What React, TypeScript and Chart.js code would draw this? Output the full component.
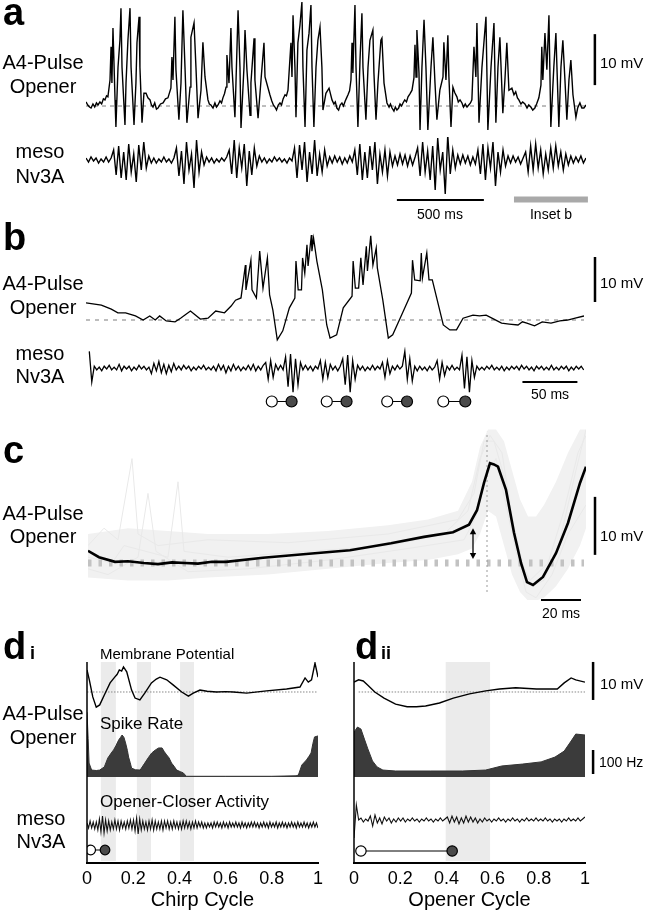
import React, { useEffect, useRef } from 'react';
import { Chart, registerables } from 'chart.js';

Chart.register(...registerables);

const SANS = '"Liberation Sans", Arial, Helvetica, sans-serif';
const NARROW = '"Liberation Sans Narrow", "Arial Narrow", "Liberation Sans", Arial, sans-serif';

// ================= Panel a : A4-Pulse opener (time ms, mV re. rest) =================
const aOpenerTrace: [number, number][] = [
  [0,0.8],[10,0.2],[20,-0.2],[29,-0.4],[40,0.4],[50,-0.2],[60,0.6],[69,0.2],[80,0.8],[90,0.4],[100,1.4],[109,1.2],[118,2.0],[126,1.8],[138,5.1],[144,11.6],[149,4.5],[155,15.3],[167,1.2],[172,-4.1],[184,7.6],[195,12.9],[201,19.2],[207,7.6],[224,-3.7],[230,4.5],[241,12.9],[253,19.2],[259,7.6],[276,-3.7],[287,4.5],[293,12.4],[305,17.5],[310,7.6],[322,-3.3],[333,2.5],[345,2.5],[356,1.6],[368,1.2],[376,0.2],[385,-0.2],[395,0.6],[405,-0.6],[414,-0.4],[428,0.4],[443,0.6],[457,1.4],[471,1.6],[488,3.5],[494,9.6],[500,5.1],[511,17.5],[517,7.1],[534,-2.7],[546,4.5],[557,18.8],[569,7.6],[580,-3.3],[598,3.7],[603,13.5],[621,16.3],[632,7.6],[644,-2.4],[661,3.1],[672,12.5],[684,5.7],[701,1.2],[709,0.4],[718,0.2],[730,-0.4],[741,0.6],[750,-0.2],[759,0.2],[770,1.0],[779,0.6],[787,1.6],[796,2.4],[805,3.7],[810,10.0],[822,4.5],[833,15.3],[839,7.6],[856,-2.2],[862,4.5],[874,18.8],[885,7.6],[891,-4.3],[908,7.6],[914,14.9],[925,7.1],[943,-1.8],[948,4.5],[966,13.3],[971,5.1],[989,-2.4],[1006,5.1],[1023,12.4],[1029,5.7],[1057,2.2],[1068,1.0],[1077,0.2],[1086,-0.2],[1095,-0.8],[1105,0.2],[1115,0.6],[1124,0.2],[1133,1.4],[1144,2.2],[1152,2.0],[1161,3.1],[1178,12.4],[1184,5.7],[1190,17.8],[1201,7.6],[1207,-2.2],[1218,12.4],[1230,15.9],[1241,20.4],[1247,7.6],[1259,-4.1],[1270,11.0],[1282,14.3],[1293,19.8],[1299,7.6],[1310,-4.1],[1322,7.6],[1333,12.9],[1345,15.5],[1356,7.6],[1362,-0.8],[1379,2.5],[1397,3.5],[1414,1.2],[1425,0.4],[1433,0.8],[1442,-0.4],[1452,-0.8],[1461,0.2],[1471,0.6],[1480,0.0],[1490,1.0],[1498,1.6],[1506,2.2],[1515,3.0],[1523,5.1],[1529,12.4],[1534,6.5],[1546,19.8],[1552,7.6],[1563,-4.1],[1575,9.0],[1586,18.2],[1592,7.6],[1609,-2.7],[1621,7.6],[1632,12.9],[1649,14.9],[1655,6.5],[1667,-2.7],[1678,4.5],[1695,12.9],[1701,13.3],[1713,4.5],[1730,0.6],[1742,-0.2],[1750,0.4],[1759,-0.4],[1770,-1.0],[1778,-0.2],[1787,-0.8],[1797,-0.4],[1805,0.4],[1814,0.0],[1822,0.6],[1832,1.2],[1842,0.8],[1851,1.8],[1862,2.4],[1874,3.1],[1885,5.5],[1891,12.0],[1897,5.7],[1902,14.9],[1914,6.5],[1920,-4.7],[1931,7.6],[1943,16.9],[1954,7.6],[1965,-4.7],[1983,7.6],[1994,13.5],[2006,4.5],[2017,-2.7],[2034,3.1],[2052,5.7],[2057,12.5],[2069,5.1],[2080,13.9],[2086,5.7],[2098,-4.1],[2109,3.7],[2120,2.6],[2132,1.8],[2140,0.8],[2150,1.2],[2161,0.6],[2170,-0.2],[2180,0.4],[2190,-0.2],[2200,0.2],[2210,0.6],[2218,1.2],[2230,11.6],[2241,5.7],[2247,16.3],[2259,-3.3],[2276,7.6],[2299,17.5],[2310,-4.7],[2328,7.6],[2345,16.3],[2356,-3.3],[2368,7.6],[2379,13.5],[2396,-1.4],[2408,5.1],[2419,12.4],[2431,3.1],[2448,3.5],[2460,2.2],[2470,2.8],[2480,1.6],[2488,1.2],[2500,0.4],[2510,0.8],[2523,0.4],[2535,-0.4],[2545,0.2],[2557,-0.2],[2568,-0.8],[2580,-0.4],[2590,0.4],[2603,1.6],[2615,4.1],[2620,11.6],[2626,5.1],[2638,14.3],[2649,7.1],[2661,17.8],[2666,7.6],[2672,-4.1],[2689,7.6],[2701,14.3],[2707,7.6],[2718,-4.1],[2730,7.6],[2741,12.9],[2753,5.1],[2764,-2.7],[2776,5.1],[2787,9.0],[2799,2.2],[2816,-2.2],[2826,-0.4],[2839,0.6],[2850,-0.4],[2862,-0.4],[2874,0.2],
];
const aDurationMs = 2874;
const aMesoDt = 14.44; // ms per plotted sample
const aMesoTrace = [
  2,-2,3,-1,2,-3,1,-2,3,-2,2,
  10,-15,14,-18,8,-20,16,-12,6,-22,15,-10,18,-8,4,-3,
  2,-3,1,-2,3,-2,1,-3,2,
  12,-16,9,-24,18,-10,6,-28,20,-12,8,-5,
  3,-2,2,-3,1,-2,2,-1,3,
  10,-14,20,-18,12,-8,16,-26,9,-15,12,-6,4,
  -2,2,-3,1,-2,3,-1,2,-2,1,-3,2,-1,
  12,-18,15,-10,18,-22,8,-14,20,-16,6,-12,10,-6,3,
  -3,4,-2,3,-4,2,-3,4,-2,
  10,-15,16,-20,8,-18,14,-10,18,-24,6,-12,10,-16,8,-6,4,
  -5,6,-4,5,-6,4,-5,3,
  12,-16,18,-12,9,-20,14,-30,22,-10,8,-34,25,-14,10,-8,5,
  -4,5,-3,4,-5,3,-4,
  10,-14,16,-20,12,-8,18,-26,8,-12,10,-6,4,
  -3,4,-2,3,-4,2,
  8,-12,14,-10,16,-8,10,-14,6,-10,12,-8,14,-6,8,-10,6,-5,4,-3,
  3,-2,4,-3,2,
];
const aVoltageBarMv = [4.1, 14.1];
const aVoltageBarAtMs = 2925;
const aTimeBarMs = [1787, 2287];
const aInsetWindowMs = [2460, 2885];

// ================= Panel b : inset (time ms, mV) =================
const bOpenerTrace: [number, number][] = [
  [0,3.8],[14,3.3],[23,2.4],[29,1.6],[36,1.6],[45,0.9],[52,0],[58,0.9],[63,0],[67,0.9],[73,-0.2],[81,-0.4],[86,0.4],[95,2.0],[104,0.2],[111,0.4],[118,2.0],[126,1.6],[132,3.1],[136,4.4],[141,4.9],[145,12.2],[145.5,6.7],[150,13.3],[151,6.7],[155,4.9],[158,15.3],[161,7.1],[165,13.8],[167,5.6],[170,2.2],[174,-4.4],[179,-2.4],[185,2.7],[190,4.9],[191,13.1],[193,6.7],[196,6.7],[197,13.8],[199,10.4],[201,16.7],[202,12.0],[205,18.9],[205.5,15.3],[207,18.2],[210,13.1],[215,6.7],[219,-1.1],[222,-4.0],[228,-3.3],[234,2.7],[242,5.3],[243,13.1],[245,7.1],[248,7.1],[250,13.8],[252,7.8],[255,16.4],[256,10.9],[259,18.7],[261,12.2],[264,16.0],[265,11.6],[270,4.4],[275,-4.0],[279,-3.3],[288,1.6],[296,6.0],[297,13.3],[299,8.9],[304,8.7],[305,14.9],[306,9.3],[310,14.9],[312,8.9],[315,8.9],[319,4.9],[325,-1.1],[331,-2.2],[337,-2.2],[343,0.4],[352,1.1],[358,0.9],[364,1.1],[371,0.2],[378,-0.7],[385,-0.9],[393,-1.1],[397,-0.4],[401,-0.7],[408,-1.3],[415,-0.4],[423,-0.7],[431,-0.2],[438,0],[445,0.4],[453,0.9],
];
const bDurationMs = 453;
const bMesoStartMs = 3;
const bMesoDt = 2.26;
const bMesoTrace = [
  18,-15,
  2,-2,1,-3,2,-1,3,-2,1,-2,4,-3,2,-1,2,-3,1,-2,3,-1,2,-2,1,
  -6,5,-3,7,-5,4,-6,3,-4,5,-2,
  2,-2,3,-1,2,-3,1,-2,2,-1,3,-2,1,-2,2,
  -3,4,-2,3,-5,2,-3,4,-2,2,-3,1,-2,3,-2,4,-3,2,-2,3,
  6,-12,8,-10,4,
  -2,3,-2,
  12,-20,15,-26,10,-18,6,
  -2,3,-2,2,-3,2,-1,
  8,-12,6,-10,4,
  -2,2,-3,2,
  10,-18,14,-26,8,-12,
  3,-2,2,-3,1,-2,3,-2,2,-1,
  6,-10,8,-6,
  2,-2,3,-1,2,
  18,-12,10,-14,
  2,-3,2,-2,1,-3,2,-2,1,
  8,-12,6,-8,
  2,-2,3,-2,1,-2,
  14,-22,12,-26,8,-10,
  2,-2,1,-2,2,-1,3,-2,1,-2,2,-3,1,-2,2,-1,2,-2,3,-1,2,-2,1,-3,2,-1,2,-2,1,-2,3,-2,1,-2,2,-1,2,-3,1,-2,2,-1,2,-2,
];
const bOpenerSpikeMs = [169, 219, 274, 325];
const bCloserSpikeMs = [187, 237, 292, 345];
const bVoltageBarMv = [4, 14];
const bVoltageBarAtMs = 463;
const bTimeBarMs = [397, 447];

// ================= Panel c : spike-triggered average (time ms, mV) =================
const cMeanTrace: [number, number][] = [
  [0,2.1],[5.5,1.0],[13.5,0.2],[20,0.3],[28,0],[35,-0.2],[42,0.1],[48.5,0],[55,-0.1],[62,0.2],[69,0.2],[87.5,0.9],[110.5,1.6],[131,2.2],[151.5,3.4],[168,4.5],[182.5,5.3],[190.5,6.6],[194.5,9.1],[198,13.8],[201,17.2],[203,17.0],[205,16.6],[209,12.6],[213,5.2],[216.5,0],[219.5,-3.3],[222.5,-3.8],[227.5,-2.4],[234,1.7],[240,6.9],[246,13.8],[249,16.6],
];
const cBandTime =  [0, 20, 40, 60, 90, 120, 150, 170, 185, 192, 196, 200, 204, 208, 212, 216, 220, 224, 228, 234, 240, 246, 249];
const cBandUpper = [5, 6, 5.5, 5, 5, 5.5, 6.5, 7.5, 9, 14, 20, 23, 23, 21, 16, 11, 8, 8, 10, 14, 19, 23, 23];
const cBandLower = [-2.5, -3, -3, -2.5, -2, -1, 0, 0.5, 1.5, 2.5, 5, 9, 8, 3, -2, -5, -6.5, -6.5, -6, -4, -1, 3, 6];
const cSingleTrials: [number, number][][] = [
  [[0,3],[8,6],[15,4],[22,18],[25,5],[35,3],[60,4],[100,3.5],[150,5],[185,7.5],[193,12],[198,21],[203,21],[208,15],[213,6],[218,-1],[222,-4],[228,-3],[236,4],[244,16],[249,23]],
  [[0,-1],[10,-2],[25,1],[30,12],[34,2],[50,-1.5],[80,-1],[120,0.5],[160,2.5],[188,4],[194,8],[199,15],[204,18],[209,10],[214,2],[219,-5],[224,-6],[232,-2],[240,5],[249,10]],
  [[0,1],[12,0],[18,3],[40,1],[45,14],[48,2],[70,1],[110,2],[150,3],[178,5],[190,9],[196,18],[201,22],[207,19],[212,8],[217,0],[221,-3],[230,0],[238,9],[245,19],[249,22]],
];
const cDurationMs = 249;
const cSpikeOnsetMs = 199.5;
const cArrowMs = 192.5;
const cArrowMv = [0.7, 6.0];
const cVoltageBarMv = [1.4, 11.4];
const cVoltageBarAtMs = 253.5;
const cTimeBarMs = [226.5, 246.5];

// ================= Panel d : phase-averaged activity =================
const dTickLabels = ['0', '0.2', '0.4', '0.6', '0.8', '1'];
// d i : chirp cycle
const diMembrane: [number, number][] = [
  [0,5.8],[0.01,3.2],[0.025,-1.3],[0.04,-4.0],[0.055,-3.4],[0.075,-0.8],[0.1,2.4],[0.12,3.9],[0.13,4.6],[0.14,5.8],[0.15,5.5],[0.158,6.6],[0.172,5.3],[0.193,0.5],[0.208,-1.6],[0.229,-2.1],[0.25,-0.3],[0.279,2.4],[0.3,3.4],[0.316,3.9],[0.345,3.2],[0.374,1.8],[0.41,0],[0.439,-1.1],[0.46,-0.3],[0.489,0.5],[0.52,0.2],[0.561,0],[0.6,0.1],[0.633,0],[0.691,-0.3],[0.777,0.3],[0.864,0.8],[0.922,1.3],[0.944,3.7],[0.958,2.6],[0.972,3.2],[0.987,7.6],[1.0,3.9],
];
const diSpikeRate: [number, number][] = [
  [0,270],[0.005,160],[0.009,58],[0.02,29],[0.04,27],[0.055,29],[0.075,42],[0.09,79],[0.105,100],[0.115,113],[0.125,130],[0.137,154],[0.145,165],[0.152,175],[0.16,165],[0.167,142],[0.175,110],[0.18,83],[0.187,60],[0.193,37],[0.21,30],[0.23,29],[0.25,58],[0.265,80],[0.28,100],[0.295,112],[0.31,121],[0.325,121],[0.335,105],[0.345,92],[0.355,80],[0.366,58],[0.377,45],[0.388,29],[0.405,22],[0.417,17],[0.43,3],[0.6,3],[0.8,3],[0.905,5],[0.915,8],[0.93,50],[0.95,71],[0.96,85],[0.97,100],[0.978,140],[0.985,167],[1.0,171],
];
const diMesoDt = 1 / 149;
const diMeso = [
  2,-3,4,-3,3,-4,3,-5,6,-7,9,-8,5,-6,4,-5,3,-4,5,-4,
  4,-5,4,-3,3,-4,4,-3,5,-4,5,-6,7,-9,6,-5,4,-4,3,-5,
  4,-4,5,-5,4,-4,3,-4,4,-5,4,-3,4,-4,3,-4,4,-3,3,-4,
  3,-4,4,-3,4,-3,3,-4,3,-3,4,-3,3,-2,3,-3,2,-3,2,-2,
  2,-3,3,-2,3,-2,2,-3,3,-2,2,-3,3,-2,2,-2,3,-2,2,-3,
  3,-2,2,-3,2,-2,3,-2,3,-2,2,-3,2,-2,3,-2,2,-3,3,-2,
  2,-2,3,-3,2,-2,3,-2,2,-3,2,-2,3,-2,2,-3,3,-2,2,-2,
  3,-2,2,-3,2,-2,3,-2,2,-3,
];
const diPhaseBands: [number, number][] = [[0.06, 0.125], [0.216, 0.277], [0.403, 0.463]];
const diOpenerPhase = 0.016;
const diCloserPhase = 0.078;
// d ii : opener cycle
const diiMembrane: [number, number][] = [
  [0,2.6],[0.02,3.2],[0.04,2.9],[0.06,1.8],[0.09,0],[0.13,-1.6],[0.18,-3.2],[0.23,-3.9],[0.27,-3.9],[0.31,-3.7],[0.37,-2.9],[0.43,-1.6],[0.5,-0.5],[0.57,0.3],[0.63,0.8],[0.7,1.1],[0.79,0.8],[0.88,0.8],[0.91,2.4],[0.94,3.7],[0.96,3.2],[1.0,2.6],
];
const diiSpikeRate: [number, number][] = [
  [0,187],[0.015,208],[0.03,200],[0.045,158],[0.06,117],[0.08,67],[0.1,42],[0.125,29],[0.18,25],[0.33,25],[0.47,25],[0.57,29],[0.64,46],[0.73,54],[0.81,63],[0.87,83],[0.91,108],[0.94,150],[0.96,179],[1.0,175],
];
const diiMesoDt = 1 / 99;
const diiMeso = [
  -18,15,0,2,-2,1,-1,4,-6,5,
  -3,2,-4,3,-1,2,-3,1,-2,2,
  -1,2,-2,1,-1,2,-1,1,-2,1,
  -1,2,-1,1,-2,1,-1,2,-1,1,
  3,-3,4,-2,3,-4,2,-3,4,-2,
  3,-2,2,-3,1,-2,2,-1,1,-2,
  1,-1,2,-1,1,-2,1,-1,2,-1,
  1,-2,1,-1,2,-1,1,-1,2,-1,
  1,-1,2,-1,1,-2,1,-1,1,-2,
  1,-1,2,-1,1,-1,2,-1,1,3,
];
const diiPhaseBands: [number, number][] = [[0.397, 0.589]];
const diiOpenerPhase = 0.03;
const diiCloserPhase = 0.425;
const diiVoltageBarMv = [-2.1, 7.9];
const diiRateBarHz = [12.5, 112.5];
const diiBarPhase = 1.035;

// ================= helpers =================
type Box = { x: number; y: number; w: number; h: number };
type Area = { left: number; top: number; right: number; bottom: number };

const pts = (pairs: [number, number][]) => pairs.map(([x, y]) => ({ x, y }));
const sampled = (vals: number[], t0: number, dt: number) => vals.map((v, i) => ({ x: t0 + i * dt, y: v }));
const zip = (xs: number[], ys: number[]) => xs.map((x, i) => ({ x, y: ys[i] }));

function line(data: any[], color: string, width: number, extra: any = {}) {
  return { data, borderColor: color, borderWidth: width, pointRadius: 0, tension: 0, fill: false, ...extra };
}

function dumbbell(x0: number, x1: number, y: number, yAxisID: string, r: number) {
  return {
    data: [{ x: x0, y }, { x: x1, y }],
    yAxisID,
    borderColor: '#000',
    borderWidth: 1,
    pointRadius: r,
    pointBorderWidth: 1.2,
    pointBorderColor: '#000',
    pointBackgroundColor: ['#ffffff', '#4a4a4a'],
    fill: false,
    order: -1,
  };
}

type Ann =
  | { kind: 'v'; x: number; y0: number; y1: number; yAxis: string; w: number; color?: string }
  | { kind: 'h'; y: number; x0: number; x1: number; yAxis: string; w: number; color?: string }
  | { kind: 'arrow'; x: number; y0: number; y1: number; yAxis: string };

function annPlugin(id: string, list: Ann[]) {
  return {
    id,
    afterDraw(chart: any) {
      const ctx = chart.ctx as CanvasRenderingContext2D;
      const xs = chart.scales.x;
      ctx.save();
      for (const a of list) {
        const ys = chart.scales[a.yAxis];
        if (a.kind === 'v') {
          const px = xs.getPixelForValue(a.x);
          ctx.strokeStyle = a.color || '#000';
          ctx.lineWidth = a.w;
          ctx.beginPath();
          ctx.moveTo(px, ys.getPixelForValue(a.y0));
          ctx.lineTo(px, ys.getPixelForValue(a.y1));
          ctx.stroke();
        } else if (a.kind === 'h') {
          const py = ys.getPixelForValue(a.y);
          ctx.strokeStyle = a.color || '#000';
          ctx.lineWidth = a.w;
          ctx.beginPath();
          ctx.moveTo(xs.getPixelForValue(a.x0), py);
          ctx.lineTo(xs.getPixelForValue(a.x1), py);
          ctx.stroke();
        } else {
          const px = xs.getPixelForValue(a.x);
          const p0 = ys.getPixelForValue(a.y0);
          const p1 = ys.getPixelForValue(a.y1);
          ctx.strokeStyle = '#000';
          ctx.fillStyle = '#000';
          ctx.lineWidth = 1.3;
          ctx.beginPath();
          ctx.moveTo(px, p0 - 4);
          ctx.lineTo(px, p1 + 4);
          ctx.stroke();
          const head = (tipY: number, dir: number) => {
            ctx.beginPath();
            ctx.moveTo(px, tipY);
            ctx.lineTo(px - 3.2, tipY + dir * 6);
            ctx.lineTo(px + 3.2, tipY + dir * 6);
            ctx.closePath();
            ctx.fill();
          };
          head(p1, 1);
          head(p0, -1);
        }
      }
      ctx.restore();
    },
  };
}

function bandPlugin(id: string, ranges: [number, number][], color: string) {
  return {
    id,
    beforeDatasetsDraw(chart: any) {
      const { ctx, chartArea } = chart;
      const xs = chart.scales.x;
      ctx.save();
      ctx.fillStyle = color;
      for (const [a, b] of ranges) {
        const x0 = xs.getPixelForValue(a);
        const x1 = xs.getPixelForValue(b);
        ctx.fillRect(x0, chartArea.top, x1 - x0, chartArea.bottom - chartArea.top - 2);
      }
      ctx.restore();
    },
  };
}

const leftAxisPlugin = {
  id: 'leftAxis',
  afterDatasetsDraw(chart: any) {
    const { ctx, chartArea } = chart;
    ctx.save();
    ctx.strokeStyle = '#000';
    ctx.lineWidth = 1.5;
    ctx.beginPath();
    ctx.moveTo(chartArea.left, chartArea.top);
    ctx.lineTo(chartArea.left, chartArea.bottom);
    ctx.stroke();
    ctx.restore();
  },
};

function traceChart(
  canvas: HTMLCanvasElement,
  box: Box,
  area: Area,
  x: [number, number],
  y: [number, number],
  datasets: any[],
  plugins: any[] = [],
) {
  return new Chart(canvas, {
    type: 'line',
    data: { datasets },
    options: {
      responsive: false,
      animation: false,
      devicePixelRatio: 1,
      events: [],
      layout: {
        padding: {
          left: area.left - box.x,
          top: area.top - box.y,
          right: box.x + box.w - area.right,
          bottom: box.y + box.h - area.bottom,
        },
      },
      plugins: { legend: { display: false }, tooltip: { enabled: false }, title: { display: false } },
      scales: {
        x: { type: 'linear', min: x[0], max: x[1], display: false },
        y: { type: 'linear', min: y[0], max: y[1], display: false },
      },
    } as any,
    plugins,
  });
}

function phaseChart(
  canvas: HTMLCanvasElement,
  box: Box,
  area: Area,
  title: string,
  meso: [number, number],
  datasets: any[],
  plugins: any[],
) {
  const axisH = box.y + box.h - area.bottom;
  return new Chart(canvas, {
    type: 'line',
    data: { datasets },
    options: {
      responsive: false,
      animation: false,
      devicePixelRatio: 1,
      events: [],
      layout: {
        padding: { left: area.left - box.x, top: area.top - box.y, right: box.x + box.w - area.right, bottom: 0 },
      },
      plugins: { legend: { display: false }, tooltip: { enabled: false }, title: { display: false } },
      scales: {
        x: {
          type: 'linear',
          min: 0,
          max: 1,
          position: 'bottom',
          afterFit: (s: any) => {
            s.height = axisH;
          },
          grid: { display: false, drawTicks: false },
          border: { display: true, color: '#000', width: 2 },
          ticks: {
            stepSize: 0.2,
            autoSkip: false,
            maxRotation: 0,
            padding: 5,
            color: '#000',
            font: { family: NARROW, size: 18 },
            callback: (v: number) => dTickLabels[Math.round(v / 0.2)],
          },
          title: {
            display: true,
            text: title,
            color: '#000',
            font: { family: SANS, size: 20 },
            padding: { top: 0, bottom: 2 },
          },
        },
        yMem: { type: 'linear', display: false, min: -45, max: 7.89 },
        ySpk: { type: 'linear', display: false, min: -358.3, max: 479.2 },
        yMeso: { type: 'linear', display: false, min: meso[0], max: meso[1] },
      },
    } as any,
    plugins,
  });
}

// ================= layout boxes (pixels) =================
const BOX = {
  a1: { x: 0, y: 0, w: 645, h: 135 },
  a2: { x: 0, y: 135, w: 645, h: 80 },
  b1: { x: 0, y: 225, w: 645, h: 122 },
  b2: { x: 0, y: 340, w: 645, h: 75 },
  c: { x: 0, y: 420, w: 645, h: 205 },
  di: { x: 0, y: 630, w: 330, h: 284 },
  dii: { x: 330, y: 630, w: 315, h: 284 },
};

function T(props: { x: number; y: number; s: number; a?: 'l' | 'c'; b?: boolean; f?: string; children: any }) {
  const { x, y, s, a = 'l', b = false, f = SANS, children } = props;
  return (
    <div
      style={{
        position: 'absolute',
        left: x,
        top: y,
        transform: `translate(${a === 'c' ? '-50%' : '0'}, -50%)`,
        fontSize: s,
        lineHeight: 1,
        fontWeight: b ? 700 : 400,
        fontFamily: f,
        whiteSpace: 'nowrap',
        color: '#000',
      }}
    >
      {children}
    </div>
  );
}

export default function App() {
  const a1 = useRef<HTMLCanvasElement>(null);
  const a2 = useRef<HTMLCanvasElement>(null);
  const b1 = useRef<HTMLCanvasElement>(null);
  const b2 = useRef<HTMLCanvasElement>(null);
  const c = useRef<HTMLCanvasElement>(null);
  const di = useRef<HTMLCanvasElement>(null);
  const dii = useRef<HTMLCanvasElement>(null);

  useEffect(() => {
    const charts: Chart[] = [];

    // ---- a : opener ----
    charts.push(
      traceChart(
        a1.current!,
        BOX.a1,
        { left: 86, right: 586, top: 0, bottom: 132 },
        [0, aDurationMs],
        [-5.1, 20.8],
        [
          line(pts(aOpenerTrace), '#000', 1.4, { order: 0 }),
          line([{ x: 0, y: 0 }, { x: aDurationMs, y: 0 }], '#a8a8a8', 1.5, { borderDash: [4, 4], order: 1 }),
        ],
        [annPlugin('aBars', [{ kind: 'v', x: aVoltageBarAtMs, y0: aVoltageBarMv[0], y1: aVoltageBarMv[1], yAxis: 'y', w: 2.5 }])],
      ),
    );
    // ---- a : meso ----
    charts.push(
      traceChart(
        a2.current!,
        BOX.a2,
        { left: 86, right: 586, top: 137, bottom: 197 },
        [0, aDurationMs],
        [-37, 23],
        [line(sampled(aMesoTrace, 0, aMesoDt), '#000', 1.4)],
        [
          annPlugin('aTime', [
            { kind: 'h', y: -40, x0: aTimeBarMs[0], x1: aTimeBarMs[1], yAxis: 'y', w: 2.2 },
            { kind: 'h', y: -39.5, x0: aInsetWindowMs[0], x1: aInsetWindowMs[1], yAxis: 'y', w: 6, color: '#a9a9a9' },
          ]),
        ],
      ),
    );
    // ---- b : opener ----
    charts.push(
      traceChart(
        b1.current!,
        BOX.b1,
        { left: 86, right: 584, top: 232, bottom: 343 },
        [0, bDurationMs],
        [-5.11, 19.56],
        [
          line(pts(bOpenerTrace), '#000', 1.3, { order: 0 }),
          line([{ x: 0, y: 0 }, { x: bDurationMs, y: 0 }], '#a8a8a8', 1.5, { borderDash: [4, 5], order: 1 }),
        ],
        [annPlugin('bBars', [{ kind: 'v', x: bVoltageBarAtMs, y0: bVoltageBarMv[0], y1: bVoltageBarMv[1], yAxis: 'y', w: 2.5 }])],
      ),
    );
    // ---- b : meso + opener/closer markers ----
    charts.push(
      traceChart(
        b2.current!,
        BOX.b2,
        { left: 86, right: 584, top: 342, bottom: 408 },
        [0, bDurationMs],
        [-43, 23],
        [
          line(sampled(bMesoTrace, bMesoStartMs, bMesoDt), '#000', 1.3),
          ...bOpenerSpikeMs.map((t, i) => dumbbell(t, bCloserSpikeMs[i], -36, 'y', 5.5)),
        ],
        [annPlugin('bTime', [{ kind: 'h', y: -15, x0: bTimeBarMs[0], x1: bTimeBarMs[1], yAxis: 'y', w: 2.2 }])],
      ),
    );
    // ---- c ----
    charts.push(
      traceChart(
        c.current!,
        BOX.c,
        { left: 88, right: 586, top: 425, bottom: 600 },
        [0, cDurationMs],
        [-6.38, 23.79],
        [
          line(pts(cMeanTrace), '#000', 2.6, { order: 0 }),
          line([{ x: cSpikeOnsetMs, y: -5 }, { x: cSpikeOnsetMs, y: 22.6 }], '#9a9a9a', 1, { borderDash: [2, 3], order: 1 }),
          line([{ x: 0, y: 0 }, { x: cDurationMs - 1, y: 0 }], '#c2c2c2', 7, { borderDash: [3.5, 7], order: 2 }),
          ...cSingleTrials.map((tr) => line(pts(tr), '#e9e9e9', 1, { order: 3 })),
          line(zip(cBandTime, cBandUpper), 'rgba(0,0,0,0)', 0, { fill: '+1', backgroundColor: '#f1f1f1', order: 4 }),
          line(zip(cBandTime, cBandLower), 'rgba(0,0,0,0)', 0, { order: 5 }),
        ],
        [
          annPlugin('cBars', [
            { kind: 'arrow', x: cArrowMs, y0: cArrowMv[0], y1: cArrowMv[1], yAxis: 'y' },
            { kind: 'v', x: cVoltageBarAtMs, y0: cVoltageBarMv[0], y1: cVoltageBarMv[1], yAxis: 'y', w: 2.5 },
            { kind: 'h', y: -6.38, x0: cTimeBarMs[0], x1: cTimeBarMs[1], yAxis: 'y', w: 2.2 },
          ]),
        ],
      ),
    );
    // ---- d i ----
    charts.push(
      phaseChart(
        di.current!,
        BOX.di,
        { left: 87, right: 318, top: 662, bottom: 863 },
        'Chirp Cycle',
        [-38, 163],
        [
          line(pts(diMembrane), '#000', 1.4, { yAxisID: 'yMem', order: 0 }),
          line([{ x: 0, y: 0 }, { x: 1, y: 0 }], '#888', 1, { yAxisID: 'yMem', borderDash: [1.5, 1.5], order: 1 }),
          line(pts(diSpikeRate), '#333', 1, { yAxisID: 'ySpk', fill: 'origin', backgroundColor: '#3b3b3b', order: 0 }),
          line(sampled(diMeso, 0, diMesoDt), '#111', 1.1, { yAxisID: 'yMeso', order: 0 }),
          dumbbell(diOpenerPhase, diCloserPhase, -25, 'yMeso', 4.8),
        ],
        [bandPlugin('diBands', diPhaseBands, '#ebebeb'), leftAxisPlugin],
      ),
    );
    // ---- d ii ----
    charts.push(
      phaseChart(
        dii.current!,
        BOX.dii,
        { left: 354, right: 585, top: 662, bottom: 863 },
        'Opener Cycle',
        [-43, 158],
        [
          line(pts(diiMembrane), '#000', 1.4, { yAxisID: 'yMem', order: 0 }),
          line([{ x: 0.02, y: 0 }, { x: 1, y: 0 }], '#888', 1, { yAxisID: 'yMem', borderDash: [1.5, 1.5], order: 1 }),
          line(pts(diiSpikeRate), '#333', 1, { yAxisID: 'ySpk', fill: 'origin', backgroundColor: '#3b3b3b', order: 0 }),
          line(sampled(diiMeso, 0, diiMesoDt), '#111', 1.1, { yAxisID: 'yMeso', order: 0 }),
          dumbbell(diiOpenerPhase, diiCloserPhase, -31, 'yMeso', 5.2),
        ],
        [
          bandPlugin('diiBands', diiPhaseBands, '#ebebeb'),
          leftAxisPlugin,
          annPlugin('diiBars', [
            { kind: 'v', x: diiBarPhase, y0: diiVoltageBarMv[0], y1: diiVoltageBarMv[1], yAxis: 'yMem', w: 2.5 },
            { kind: 'v', x: diiBarPhase, y0: diiRateBarHz[0], y1: diiRateBarHz[1], yAxis: 'ySpk', w: 2.5 },
          ]),
        ],
      ),
    );

    return () => charts.forEach((ch) => ch.destroy());
  }, []);

  const cv = (ref: any, b: Box) => (
    <canvas ref={ref} width={b.w} height={b.h} style={{ position: 'absolute', left: b.x, top: b.y, width: b.w, height: b.h }} />
  );

  return (
    <div style={{ position: 'absolute', left: 0, top: 0, width: 645, height: 914, background: '#fff', overflow: 'hidden', fontFamily: SANS }}>
      {cv(a1, BOX.a1)}
      {cv(a2, BOX.a2)}
      {cv(b1, BOX.b1)}
      {cv(b2, BOX.b2)}
      {cv(c, BOX.c)}
      {cv(di, BOX.di)}
      {cv(dii, BOX.dii)}

      {/* panel letters */}
      <T x={3} y={11.9} s={38} b>a</T>
      <T x={3} y={236.9} s={38} b>b</T>
      <T x={3} y={449.9} s={38} b>c</T>
      <T x={3} y={645.9} s={38} b>d</T>
      <T x={30} y={652.8} s={18} b>i</T>
      <T x={355} y={645.9} s={38} b>d</T>
      <T x={381} y={652.8} s={18} b>ii</T>

      {/* row labels */}
      <T x={43} y={62} s={20} a="c">A4-Pulse</T>
      <T x={43} y={86} s={20} a="c">Opener</T>
      <T x={40} y={151} s={20} a="c">meso</T>
      <T x={40} y={176} s={20} a="c">Nv3A</T>
      <T x={43} y={283} s={20} a="c">A4-Pulse</T>
      <T x={43} y={307} s={20} a="c">Opener</T>
      <T x={40} y={353} s={20} a="c">meso</T>
      <T x={40} y={376} s={20} a="c">Nv3A</T>
      <T x={43} y={513} s={20} a="c">A4-Pulse</T>
      <T x={43} y={536} s={20} a="c">Opener</T>
      <T x={43} y={713} s={20} a="c">A4-Pulse</T>
      <T x={43} y={737} s={20} a="c">Opener</T>
      <T x={41} y={818} s={20} a="c">meso</T>
      <T x={41} y={841} s={20} a="c">Nv3A</T>

      {/* scale bar labels */}
      <T x={600} y={62} s={15}>10 mV</T>
      <T x={440} y={214} s={14} a="c">500 ms</T>
      <T x={551} y={214} s={14} a="c">Inset b</T>
      <T x={600} y={282} s={15}>10 mV</T>
      <T x={550} y={394} s={14} a="c">50 ms</T>
      <T x={600} y={535} s={15}>10 mV</T>
      <T x={561} y={613} s={14} a="c">20 ms</T>
      <T x={600} y={683} s={15}>10 mV</T>
      <T x={599} y={762} s={14}>100 Hz</T>

      {/* d section titles */}
      <T x={100} y={653} s={15}>Membrane Potential</T>
      <T x={100} y={723} s={17}>Spike Rate</T>
      <T x={100} y={801} s={17}>Opener-Closer Activity</T>
    </div>
  );
}
